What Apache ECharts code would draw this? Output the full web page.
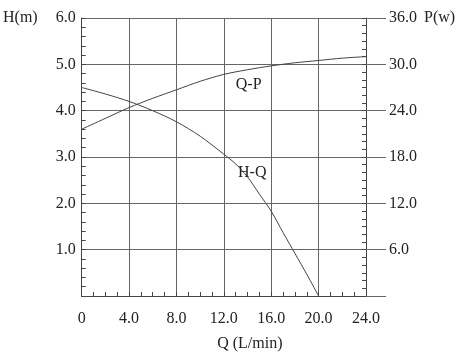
<!DOCTYPE html>
<html>
<head>
<meta charset="utf-8">
<script src="https://cdn.jsdelivr.net/npm/echarts@6/dist/echarts.min.js"></script>
<style>html,body{margin:0;padding:0;background:#fff}#c{width:469px;height:357px}</style>
</head>
<body>
<div id="c"></div>
<script>
var hqFlow = [0, 2, 4, 6, 8, 10, 12, 13, 14, 15, 16, 17, 18, 19, 20];
var hqHead = [4.5, 4.36, 4.2, 4.0, 3.76, 3.45, 3.06, 2.85, 2.57, 2.2, 1.83, 1.37, 0.92, 0.47, 0];
var qpFlow = [0, 2, 4, 6, 8, 10, 12, 14, 16, 18, 20, 22, 24];
var qpPower = [21.6, 23.0, 24.4, 25.6, 26.7, 27.8, 28.7, 29.3, 29.8, 30.2, 30.5, 30.8, 31.0];
var xTicks = ['0', '4.0', '8.0', '12.0', '16.0', '20.0', '24.0'];
var qpLabelPos = [14.1, 4.56];
var hqLabelPos = [14.4, 2.65];

var FONT = 'Liberation Serif';
var lineCol = '#444';
var gridCol = '#666';

function pairs(a, b) { return a.map(function (v, i) { return [v, b[i]]; }); }

var chart = echarts.init(document.getElementById('c'), null, { renderer: 'canvas' });
chart.setOption({
  animation: false,
  backgroundColor: '#fff',
  grid: { left: 78, right: 103, top: 18, bottom: 51, containLabel: false },
  xAxis: {
    type: 'value', min: 0, max: 24, interval: 4,
    name: 'Q (L/min)', nameLocation: 'middle', nameGap: 40,
    nameTextStyle: { fontFamily: FONT, fontSize: 16, color: '#222', padding: [0, 0, 0, 52] },
    axisLine: { show: true, lineStyle: { color: lineCol, width: 1 } },
    axisTick: { show: true, inside: true, length: 4, lineStyle: { color: lineCol } },
    minorTick: { show: true, splitNumber: 4, length: 4, lineStyle: { color: lineCol } },
    splitLine: { show: true, lineStyle: { color: gridCol, width: 1 } },
    axisLabel: {
      margin: 15, fontFamily: FONT, fontSize: 16, color: '#222',
      formatter: function (v) { return xTicks[Math.round(v / 4)]; }
    }
  },
  yAxis: [
    {
      type: 'value', min: 0, max: 6, interval: 1, position: 'left',
      name: 'H(m)', nameLocation: 'end', nameGap: 0,
      nameTextStyle: { fontFamily: FONT, fontSize: 16, color: '#222', align: 'right', verticalAlign: 'middle', padding: [0, 44, 0, 0] },
      axisLine: { show: true, lineStyle: { color: lineCol } },
      axisTick: { show: true, inside: true, length: 4, lineStyle: { color: lineCol } },
      minorTick: { show: true, splitNumber: 5, length: 4, lineStyle: { color: lineCol } },
      splitLine: { show: true, lineStyle: { color: gridCol, width: 1 } },
      axisLabel: {
        margin: 6, fontFamily: FONT, fontSize: 16, color: '#222',
        formatter: function (v) { return v === 0 ? '' : v.toFixed(1); }
      }
    },
    {
      type: 'value', min: 0, max: 36, interval: 6, position: 'right',
      name: 'P(w)', nameLocation: 'end', nameGap: 0,
      nameTextStyle: { fontFamily: FONT, fontSize: 16, color: '#222', align: 'left', verticalAlign: 'middle', padding: [0, 0, 0, 58] },
      axisLine: { show: true, lineStyle: { color: lineCol } },
      axisTick: { show: true, inside: true, length: 4, lineStyle: { color: lineCol } },
      minorTick: { show: true, splitNumber: 6, length: 4, lineStyle: { color: lineCol } },
      splitLine: { show: false },
      axisLabel: {
        margin: 23, fontFamily: FONT, fontSize: 16, color: '#222',
        formatter: function (v) { return v === 0 ? '' : v.toFixed(1); }
      }
    },
    {
      type: 'value', min: 0, max: 36, interval: 6, position: 'right',
      axisLine: { show: false },
      axisTick: { show: true, inside: false, length: 20, lineStyle: { color: gridCol } },
      splitLine: { show: false },
      axisLabel: { show: false }
    }
  ],
  series: [
    {
      name: 'H-Q', type: 'line', yAxisIndex: 0, smooth: 0.3, symbol: 'none',
      lineStyle: { color: lineCol, width: 1 },
      data: pairs(hqFlow, hqHead),
      markPoint: {
        symbol: 'circle', symbolSize: 0,
        label: { show: true, formatter: 'H-Q', fontFamily: FONT, fontSize: 16, color: '#222' },
        data: [{ coord: hqLabelPos }]
      }
    },
    {
      name: 'Q-P', type: 'line', yAxisIndex: 1, smooth: 0.3, symbol: 'none',
      lineStyle: { color: lineCol, width: 1 },
      data: pairs(qpFlow, qpPower),
      markPoint: {
        symbol: 'circle', symbolSize: 0,
        label: { show: true, formatter: 'Q-P', fontFamily: FONT, fontSize: 16, color: '#222' },
        data: [{ coord: [qpLabelPos[0], qpLabelPos[1] * 6] }]
      }
    }
  ]
});
</script>
</body>
</html>
